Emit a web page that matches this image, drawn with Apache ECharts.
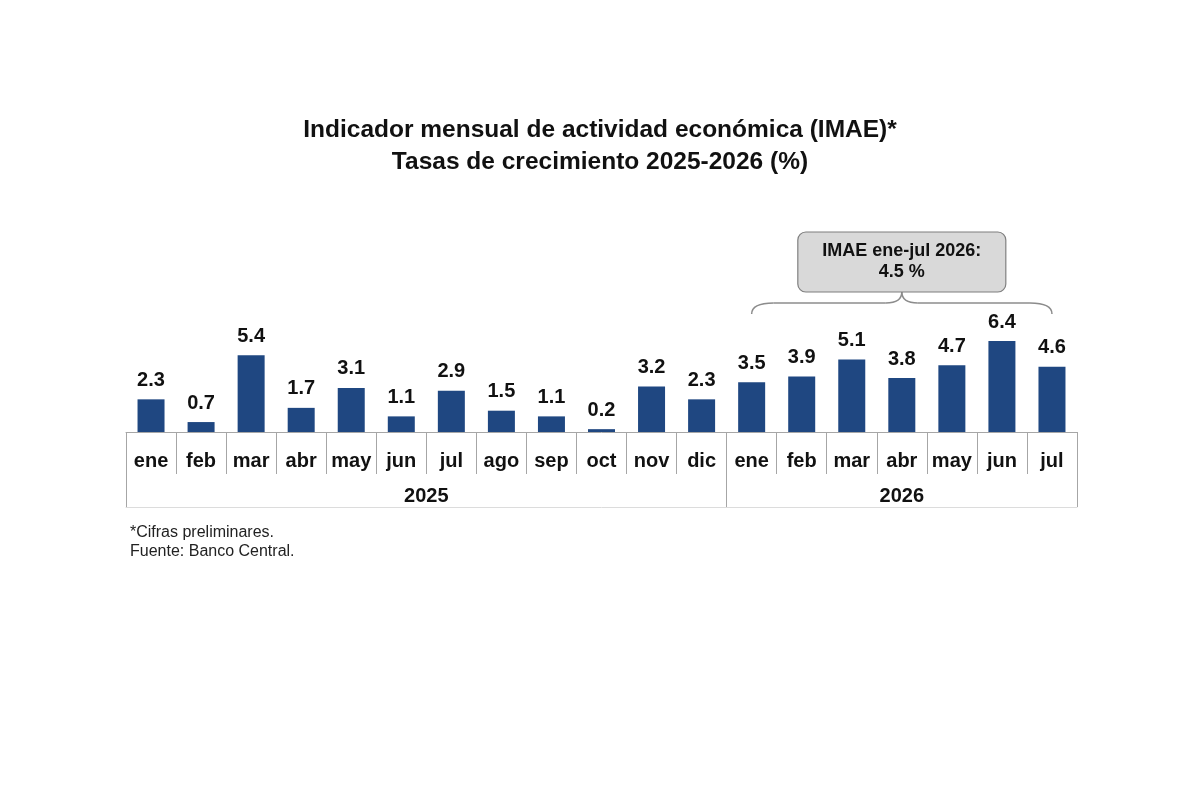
<!DOCTYPE html>
<html>
<head>
<meta charset="utf-8">
<script src="https://cdn.jsdelivr.net/npm/echarts@6/dist/echarts.min.js"></script>
<style>
  html, body { margin: 0; padding: 0; background: #fff; }
  #chart { width: 1200px; height: 800px; }
</style>
</head>
<body>
<div id="chart"></div>
<script>
// meses y valores (tasas de crecimiento %)
var months = ['ene', 'feb', 'mar', 'abr', 'may', 'jun', 'jul', 'ago', 'sep', 'oct', 'nov', 'dic',
              'ene', 'feb', 'mar', 'abr', 'may', 'jun', 'jul'];
var values = [2.3, 0.7, 5.4, 1.7, 3.1, 1.1, 2.9, 1.5, 1.1, 0.2, 3.2, 2.3,
              3.5, 3.9, 5.1, 3.8, 4.7, 6.4, 4.6];
var years = ['2025', '2026'];
var yearBounds = [0, 12, 19];   // limites de cada año en número de meses
var noteText = ['IMAE ene-jul 2026:', '4.5 %'];

var FONT = '"Liberation Sans", Arial, sans-serif';
var yearCenters = [(yearBounds[0] + yearBounds[1]) / 2, (yearBounds[1] + yearBounds[2]) / 2];

var myChart = echarts.init(document.getElementById('chart'));

var option = {
    backgroundColor: '#fff',
    animation: false,
    title: {
        text: 'Indicador mensual de actividad económica (IMAE)*\nTasas de crecimiento 2025-2026 (%)',
        left: 'center',
        top: 109,
        textStyle: { fontFamily: FONT, fontSize: 24.5, fontWeight: 'bold', color: '#111', lineHeight: 32 }
    },
    grid: { left: 126, right: 123, top: 290, bottom: 368 },
    xAxis: [{
        type: 'category',
        data: months,
        axisLine: { lineStyle: { color: '#a6a6a6', width: 1 } },
        axisTick: { show: true, interval: 0, length: 42, lineStyle: { color: '#a6a6a6', width: 1 } },
        axisLabel: { interval: 0, margin: 19, fontFamily: FONT, fontSize: 20, fontWeight: 'bold', color: '#111' }
    }, {
        type: 'value',
        position: 'bottom',
        offset: 75,
        min: yearBounds[0],
        max: yearBounds[2],
        splitLine: { show: false },
        axisLine: { show: true, lineStyle: { color: '#dcdcdc', width: 1 } },
        axisTick: { show: true, inside: true, length: 74, customValues: yearBounds, lineStyle: { color: '#a6a6a6' } },
        axisLabel: {
            inside: true, margin: 1, customValues: yearCenters,
            formatter: function (v) { return v < yearBounds[1] ? years[0] : years[1]; },
            fontFamily: FONT, fontSize: 20, fontWeight: 'bold', color: '#111'
        }
    }],
    yAxis: { type: 'value', min: 0, max: 10, show: false },
    series: [{
        type: 'bar',
        data: values,
        barWidth: 27,
        itemStyle: { color: '#1f4781' },
        label: {
            show: true, position: 'top', distance: 9,
            fontFamily: FONT, fontSize: 20, fontWeight: 'bold', color: '#111',
            formatter: function (p) { return p.value.toFixed(1); }
        }
    }]
};

myChart.setOption(option);

// llave y recuadro sobre los meses de 2026
var x0 = myChart.convertToPixel({ xAxisIndex: 0 }, yearBounds[1]);
var x1 = myChart.convertToPixel({ xAxisIndex: 0 }, yearBounds[2] - 1);
var xm = (x0 + x1) / 2;
var yEnd = 314, yMid = 303, yTip = 292;
var braceStyle = { fill: null, stroke: '#8c8c8c', lineWidth: 1.5 };

myChart.setOption({
    graphic: [
        { type: 'bezierCurve', shape: { x1: x0, y1: yEnd, cpx1: x0, cpy1: yMid, x2: x0 + 22, y2: yMid }, style: braceStyle },
        { type: 'line', shape: { x1: x0 + 22, y1: yMid, x2: xm - 16, y2: yMid }, style: braceStyle },
        { type: 'bezierCurve', shape: { x1: xm - 16, y1: yMid, cpx1: xm, cpy1: yMid, x2: xm, y2: yTip }, style: braceStyle },
        { type: 'bezierCurve', shape: { x1: xm, y1: yTip, cpx1: xm, cpy1: yMid, x2: xm + 16, y2: yMid }, style: braceStyle },
        { type: 'line', shape: { x1: xm + 16, y1: yMid, x2: x1 - 22, y2: yMid }, style: braceStyle },
        { type: 'bezierCurve', shape: { x1: x1 - 22, y1: yMid, cpx1: x1, cpy1: yMid, x2: x1, y2: yEnd }, style: braceStyle },
        {
            type: 'rect',
            shape: { x: xm - 104, y: 232, width: 208, height: 60, r: 8 },
            style: { fill: '#d9d9d9', stroke: '#7f7f7f', lineWidth: 1.2 }
        }, {
            type: 'text',
            x: xm, y: 262,
            style: {
                text: noteText.join('\n'), align: 'center', verticalAlign: 'middle',
                font: 'bold 18px ' + FONT, lineHeight: 21, fill: '#111'
            }
        }, {
            type: 'text',
            x: 130, y: 523,
            style: {
                text: '*Cifras preliminares.\nFuente: Banco Central.',
                font: '16px ' + FONT, lineHeight: 19, fill: '#222'
            }
        }
    ]
});
</script>
</body>
</html>
